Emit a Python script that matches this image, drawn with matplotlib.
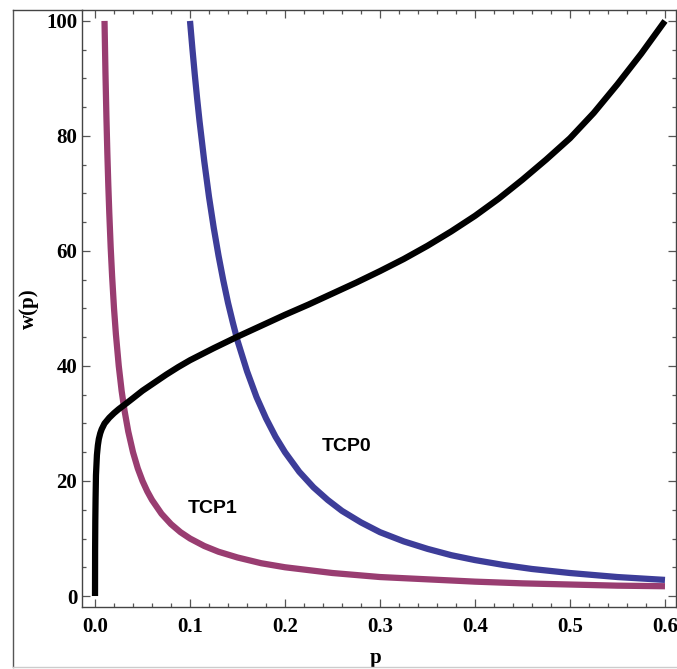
import matplotlib
matplotlib.use("Agg")
import matplotlib.pyplot as plt
from matplotlib.lines import Line2D
from matplotlib.ticker import MultipleLocator

# values
p_black = [0, 0.0001, 0.0003, 0.0006, 0.001, 0.002, 0.003, 0.004, 0.0055, 0.007,
           0.0085, 0.01, 0.0125, 0.015, 0.02, 0.025, 0.033, 0.04, 0.05, 0.0625,
           0.075, 0.0875, 0.1, 0.125, 0.15, 0.175, 0.2, 0.225, 0.25, 0.275,
           0.3, 0.325, 0.35, 0.375, 0.4, 0.425, 0.45, 0.475, 0.5, 0.525,
           0.55, 0.575, 0.6]
w_black = [0, 8, 13, 17, 21, 24.5, 26.2, 27.3, 28.3, 29.0,
           29.5, 30.0, 30.5, 31.0, 31.8, 32.5, 33.5, 34.4, 35.7, 37.1,
           38.5, 39.8, 41.0, 43.1, 45.1, 47.0, 48.9, 50.7, 52.6, 54.5,
           56.5, 58.6, 60.9, 63.4, 66.1, 69.1, 72.4, 75.9, 79.6, 84.0,
           89.0, 94.3, 100]

p_tcp0 = [0.1, 0.1025, 0.105, 0.1075, 0.11, 0.115, 0.12, 0.125, 0.13, 0.135,
          0.14, 0.145, 0.15, 0.16, 0.17, 0.18, 0.19, 0.2, 0.215, 0.23, 0.245,
          0.26, 0.28, 0.3, 0.325, 0.35, 0.375, 0.4, 0.43, 0.46, 0.5, 0.55, 0.6]
w_tcp0 = [100, 95.2, 90.7, 86.5, 82.6, 75.6, 69.4, 64.0, 59.2, 54.9,
          51.0, 47.6, 44.4, 39.1, 34.6, 30.9, 27.7, 25.0, 21.6, 18.9, 16.7,
          14.8, 12.8, 11.1, 9.5, 8.2, 7.1, 6.25, 5.4, 4.7, 4.0, 3.3, 2.8]

p_tcp1 = [0.01, 0.011, 0.012, 0.013, 0.014, 0.015, 0.0165, 0.018, 0.02, 0.022,
          0.025, 0.028, 0.031, 0.035, 0.04, 0.045, 0.05, 0.055, 0.06, 0.07,
          0.08, 0.09, 0.1, 0.115, 0.13, 0.15, 0.175, 0.2, 0.25, 0.3, 0.35,
          0.4, 0.45, 0.5, 0.55, 0.6]
w_tcp1 = [100, 90.9, 83.3, 76.9, 71.4, 66.7, 60.6, 55.6, 50, 45.5,
          40, 35.7, 32.3, 28.6, 25, 22.2, 20, 18.2, 16.7, 14.3,
          12.5, 11.1, 10, 8.7, 7.7, 6.7, 5.7, 5.0, 4.0, 3.3, 2.9,
          2.5, 2.2, 2.0, 1.8, 1.7]

x_ticks = [0.0, 0.1, 0.2, 0.3, 0.4, 0.5, 0.6]
y_ticks = [0, 20, 40, 60, 80, 100]

plt.rcParams['font.family'] = ['Liberation Serif', 'DejaVu Serif']
plt.rcParams['font.weight'] = 'bold'

fig = plt.figure(figsize=(6.77, 6.69), dpi=100)
ax = fig.add_axes([82 / 677, 62 / 669, 594 / 677, 597 / 669])

ax.plot(p_tcp1, w_tcp1, color='#993d71', lw=4.5, solid_capstyle='butt',
        solid_joinstyle='round')
ax.plot(p_tcp0, w_tcp0, color='#3d3d99', lw=4.5, solid_capstyle='butt',
        solid_joinstyle='round')
ax.plot(p_black, w_black, color='black', lw=4.5, solid_capstyle='butt',
        solid_joinstyle='round')

ax.text(0.2653, 26.0, 'TCP0', family='Liberation Sans', weight='bold',
        fontsize=14, ha='center', va='center')
ax.text(0.1233, 15.3, 'TCP1', family='Liberation Sans', weight='bold',
        fontsize=14, ha='center', va='center')

ax.set_xlim(-0.0137, 0.6116)
ax.set_ylim(-1.91, 101.9)
ax.set_xticks(x_ticks)
ax.set_xticklabels([f"{v:.1f}" for v in x_ticks])
ax.set_yticks(y_ticks)
ax.xaxis.set_minor_locator(MultipleLocator(0.02))
ax.yaxis.set_minor_locator(MultipleLocator(5))
ax.tick_params(which='both', direction='in', top=True, right=True,
               color='#555555', width=0.9)
ax.tick_params(which='major', length=5.5, labelsize=15)
ax.tick_params(which='minor', length=3)
ax.tick_params(axis='x', which='major', pad=7)
ax.tick_params(axis='y', which='major', pad=3.5)
for lab in ax.get_xticklabels() + ax.get_yticklabels():
    lab.set_fontweight('bold')
for s in ax.spines.values():
    s.set_color('#444444')
    s.set_linewidth(1.0)

ax.set_xlabel('p', fontsize=15, fontweight='bold', va='baseline')
ax.xaxis.set_label_coords(0.495, -0.094)
ax.set_ylabel('w(p)', fontsize=15, fontweight='bold', va='center')
ax.yaxis.set_label_coords(-0.089, 0.5)

# outer frame of the original screenshot
fig.add_artist(Line2D([13 / 677, 13 / 677], [1 - 9.5 / 669, 1 - 667 / 669],
                      color='#555555', lw=1.0, transform=fig.transFigure))
fig.add_artist(Line2D([13 / 677, 82 / 677], [1 - 9.5 / 669, 1 - 9.5 / 669],
                      color='#444444', lw=1.0, transform=fig.transFigure))
fig.add_artist(Line2D([13 / 677, 1.0], [1 - 667 / 669, 1 - 667 / 669],
                      color='#cccccc', lw=1.0, transform=fig.transFigure))

fig.savefig('out.png', dpi=100)
